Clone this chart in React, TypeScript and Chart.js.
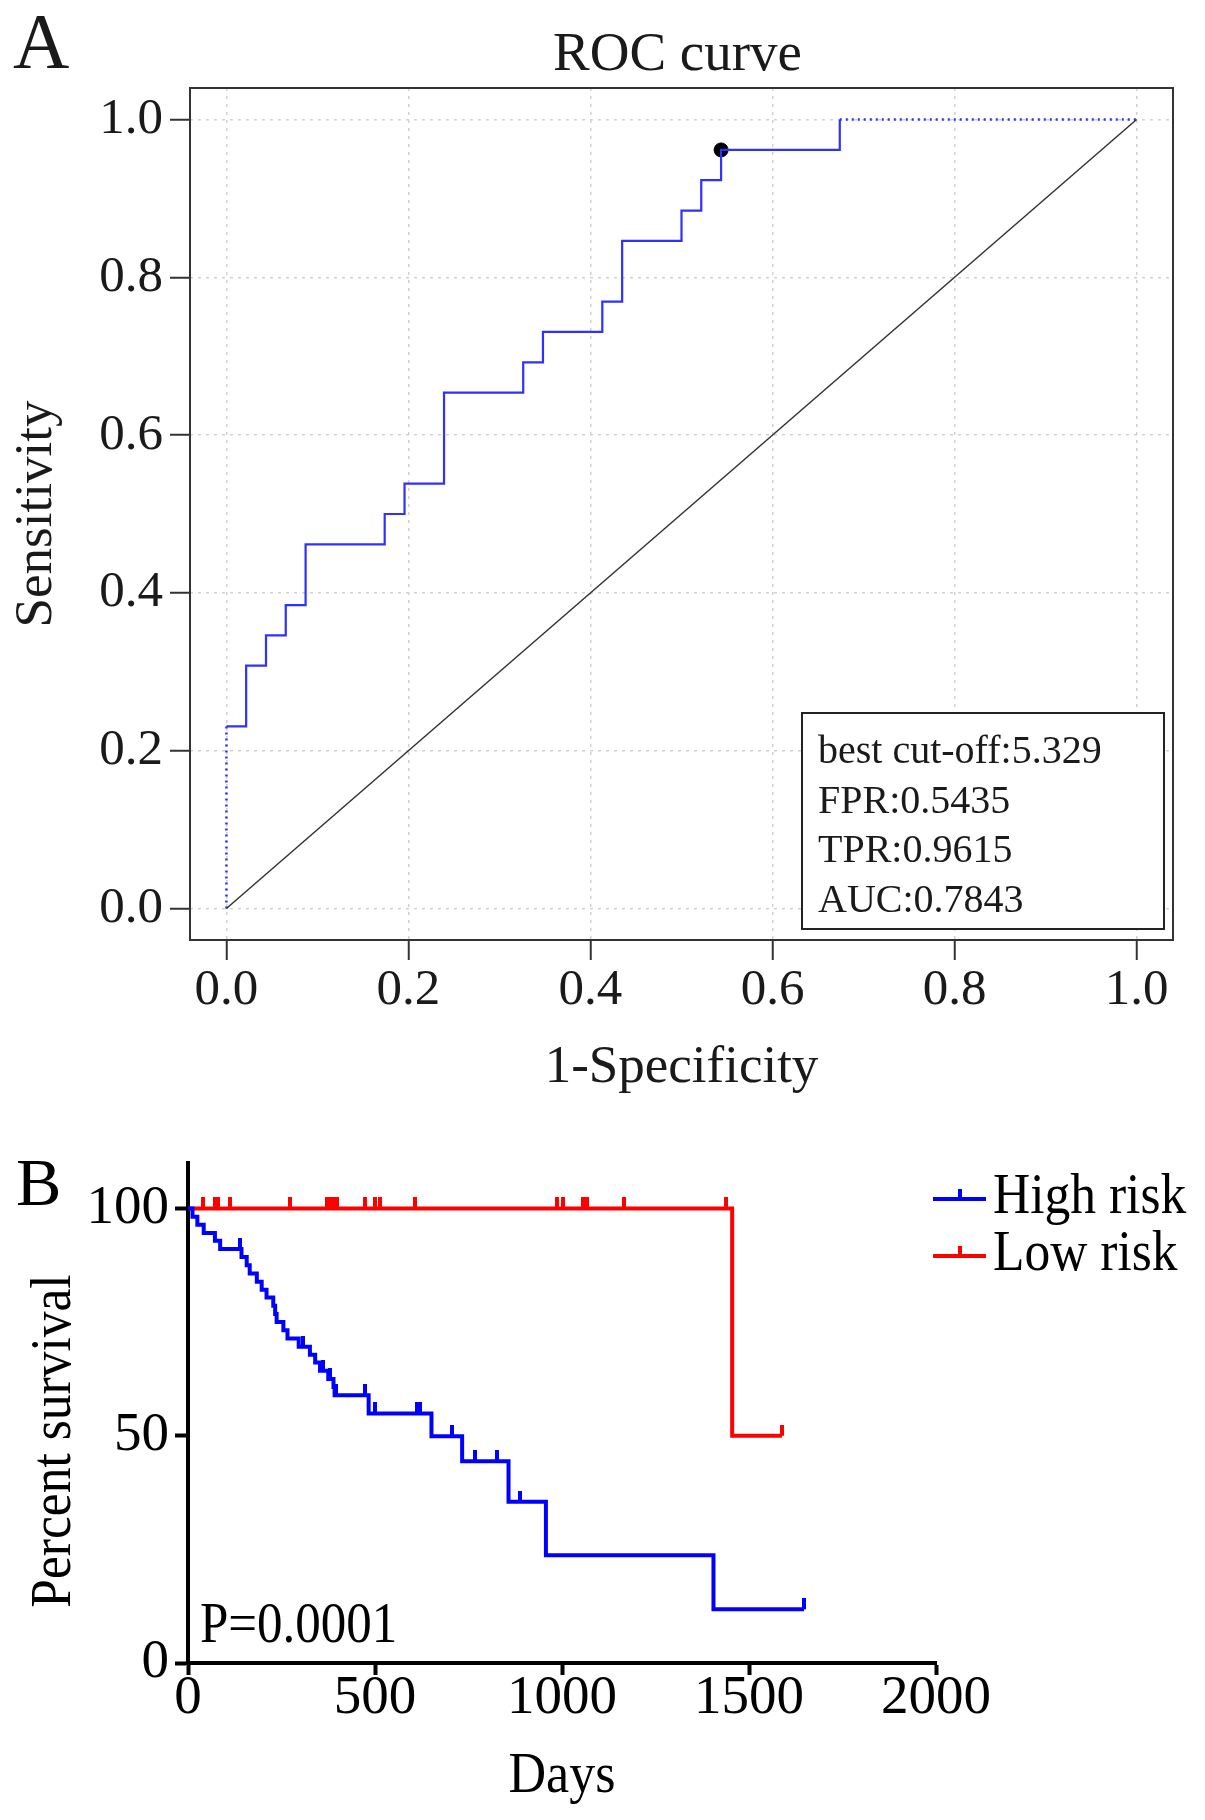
import { useEffect, useRef } from 'react';
import { Chart, registerables } from 'chart.js';

Chart.register(...registerables);

const SERIF = '"Liberation Serif", "Times New Roman", serif';

// ---- Panel A: ROC curve ----
const rocFpr = [0, 0.0217, 0.0435, 0.0652, 0.087, 0.1739, 0.1957, 0.2391, 0.3261, 0.3478, 0.413, 0.4348, 0.5, 0.5217, 0.5435, 0.6739];
const rocTpr = [0.2308, 0.3077, 0.3462, 0.3846, 0.4615, 0.5, 0.5385, 0.6538, 0.6923, 0.7308, 0.7692, 0.8462, 0.8846, 0.9231, 0.9615, 1.0];
const rocTicks = [0, 0.2, 0.4, 0.6, 0.8, 1.0];
const bestCutoff = '5.329';
const bestFpr = 0.5435;
const bestTpr = 0.9615;
const auc = '0.7843';

// ---- Panel B: Kaplan-Meier ----
const highDays = [0, 12, 25, 42, 72, 86, 143, 157, 165, 184, 197, 210, 228, 233, 237, 255, 266, 296, 326, 340, 353, 375, 389, 392, 483, 651, 733, 857, 957, 1405, 1647];
const highPct = [100, 98.2, 96.4, 94.6, 92.9, 91.1, 89.3, 87.5, 85.7, 83.9, 82.1, 80.4, 78.6, 76.8, 75.0, 73.2, 71.4, 69.6, 67.8, 66.1, 64.3, 62.5, 60.7, 58.9, 54.9, 49.9, 44.4, 35.5, 23.7, 11.8, 11.8];
const highCensored = [138, 308, 362, 380, 397, 473, 500, 611, 620, 705, 767, 825, 888, 1647];
const lowDays = [0, 1455, 1588];
const lowPct = [100, 50, 50];
const lowCensored = [40, 72, 80, 112, 273, 372, 380, 388, 398, 473, 500, 513, 607, 987, 1003, 1056, 1067, 1166, 1439, 1588];
const kmXTicks = [0, 500, 1000, 1500, 2000];
const kmYTicks = [0, 50, 100];
const groups = ['High risk', 'Low risk'];
const pValue = 'P=0.0001';

const BLUE = '#0000ff';
const RED = '#ff0000';

function levelAt(days: number[], pct: number[], d: number) {
  let v = pct[0];
  for (let i = 0; i < days.length; i++) if (days[i] <= d) v = pct[i];
  return v;
}

// small upward tick used for censored observations
function censorMark(color: string) {
  const c = document.createElement('canvas');
  c.width = 4;
  c.height = 22;
  const g = c.getContext('2d')!;
  g.fillStyle = color;
  g.fillRect(0, 0, 4, 11);
  return c;
}

function squeezeText(ctx: CanvasRenderingContext2D, text: string, x: number, y: number, squeeze: number) {
  const w = ctx.measureText(text).width;
  ctx.fillText(text, x, y, w * squeeze);
}

function RocChart() {
  const ref = useRef<HTMLCanvasElement>(null);

  useEffect(() => {
    if (!ref.current) return;

    const steps = rocFpr.map((x, i) => ({ x, y: rocTpr[i] }));
    const head = [{ x: rocFpr[0], y: 0 }, { x: rocFpr[0], y: rocTpr[0] }];
    const tail = [{ x: rocFpr[rocFpr.length - 1], y: 1 }, { x: 1, y: 1 }];

    const decor = {
      id: 'rocDecor',
      afterDraw(chart: any) {
        const { ctx, chartArea: a } = chart;
        ctx.save();
        ctx.strokeStyle = '#333';
        ctx.lineWidth = 2;
        ctx.strokeRect(a.left, a.top, a.right - a.left, a.bottom - a.top);

        // info box
        const bw = 362;
        const bh = 216;
        const bx = a.right - 9 - bw;
        const by = a.bottom - 11 - bh;
        ctx.fillStyle = '#fff';
        ctx.fillRect(bx, by, bw, bh);
        ctx.strokeStyle = '#222';
        ctx.strokeRect(bx, by, bw, bh);
        ctx.fillStyle = '#1a1a1a';
        ctx.font = `40px ${SERIF}`;
        ctx.textAlign = 'left';
        ctx.textBaseline = 'alphabetic';
        const lines = [`best cut-off:${bestCutoff}`, `FPR:${bestFpr}`, `TPR:${bestTpr}`, `AUC:${auc}`];
        lines.forEach((t, i) => ctx.fillText(t, bx + 16, by + 50 + i * 49.7));

        ctx.font = `55px ${SERIF}`;
        ctx.textAlign = 'center';
        ctx.fillText('ROC curve', (a.left + a.right) / 2 - 4, 70);
        ctx.font = `78px ${SERIF}`;
        ctx.textAlign = 'left';
        ctx.fillText('A', 13, 67);
        ctx.restore();
      },
    };

    const gridOpts = {
      color: '#d2d2d2',
      lineWidth: 1.5,
      tickLength: 20,
      tickColor: '#333',
      tickWidth: 2,
      tickBorderDash: [],
    };

    const chart = new Chart(ref.current, {
      type: 'scatter',
      data: {
        datasets: [
          {
            data: [{ x: 0, y: 0 }, { x: 1, y: 1 }],
            showLine: true,
            borderColor: '#333',
            borderWidth: 1.5,
            pointRadius: 0,
          },
          {
            data: head,
            showLine: true,
            borderColor: '#3030ff',
            borderWidth: 2.5,
            borderDash: [2, 4],
            pointRadius: 0,
          },
          {
            data: tail,
            showLine: true,
            borderColor: '#3030ff',
            borderWidth: 2.5,
            borderDash: [2, 4],
            pointRadius: 0,
          },
          {
            data: steps,
            showLine: true,
            stepped: 'before',
            borderColor: '#3030ff',
            borderWidth: 2.2,
            pointRadius: 0,
          },
          {
            data: [{ x: bestFpr, y: bestTpr }],
            pointRadius: 7,
            backgroundColor: '#000',
            borderColor: '#000',
          },
        ],
      },
      options: {
        animation: false,
        responsive: true,
        maintainAspectRatio: false,
        layout: { padding: { top: 88, right: 32, left: 0, bottom: 0 } },
        plugins: { legend: { display: false }, tooltip: { enabled: false } },
        scales: {
          x: {
            type: 'linear',
            min: -0.04,
            max: 1.04,
            afterBuildTicks: (s: any) => {
              s.ticks = rocTicks.map((v) => ({ value: v }));
            },
            afterFit: (s: any) => {
              s.height = 180;
            },
            grid: gridOpts,
            border: { display: false, dash: [3, 5] },
            ticks: {
              font: { family: SERIF, size: 51 },
              color: '#1a1a1a',
              padding: 0,
              maxRotation: 0,
              callback: (v: any) => Number(v).toFixed(1),
            },
            title: {
              display: true,
              text: '1-Specificity',
              font: { family: SERIF, size: 53 },
              color: '#1a1a1a',
              padding: { top: 0, bottom: 20 },
            },
          },
          y: {
            type: 'linear',
            min: -0.04,
            max: 1.04,
            afterBuildTicks: (s: any) => {
              s.ticks = rocTicks.map((v) => ({ value: v }));
            },
            afterFit: (s: any) => {
              s.width = 190;
            },
            grid: gridOpts,
            border: { display: false, dash: [3, 5] },
            ticks: {
              font: { family: SERIF, size: 51 },
              color: '#1a1a1a',
              padding: 7,
              callback: (v: any) => Number(v).toFixed(1),
            },
            title: {
              display: true,
              text: 'Sensitivity',
              font: { family: SERIF, size: 53 },
              color: '#1a1a1a',
              padding: { top: 5, bottom: 0 },
            },
          },
        },
      } as any,
      plugins: [decor],
    });

    return () => chart.destroy();
  }, []);

  return <canvas ref={ref} />;
}

function SurvivalChart() {
  const ref = useRef<HTMLCanvasElement>(null);

  useEffect(() => {
    if (!ref.current) return;

    const highLine = highDays.map((x, i) => ({ x, y: highPct[i] }));
    const lowLine = lowDays.map((x, i) => ({ x, y: lowPct[i] }));
    const highMarks = highCensored.map((d) => ({ x: d, y: levelAt(highDays, highPct, d) }));
    const lowMarks = lowCensored.map((d) => ({ x: d, y: levelAt(lowDays, lowPct, d) }));

    const decor = {
      id: 'kmDecor',
      afterDraw(chart: any) {
        const { ctx, chartArea: a } = chart;
        ctx.save();
        ctx.fillStyle = '#000';
        ctx.textBaseline = 'alphabetic';

        ctx.font = `68px ${SERIF}`;
        ctx.textAlign = 'left';
        ctx.fillText('B', 16, 85);

        ctx.font = `56px ${SERIF}`;
        squeezeText(ctx, pValue, a.left + 12, a.bottom - 21, 0.91);

        ctx.textAlign = 'center';
        squeezeText(ctx, 'Days', (a.left + a.right) / 2, 672, 0.93);

        ctx.save();
        ctx.translate(70, (a.top + a.bottom) / 2 + 28);
        ctx.rotate(-Math.PI / 2);
        squeezeText(ctx, 'Percent survival', 0, 0, 0.92);
        ctx.restore();

        // legend
        const colors = [BLUE, RED];
        const rows = [79, 136];
        groups.forEach((g, i) => {
          const y = rows[i];
          ctx.strokeStyle = colors[i];
          ctx.lineWidth = 4;
          ctx.beginPath();
          ctx.moveTo(a.right - 3, y);
          ctx.lineTo(a.right + 50, y);
          ctx.moveTo(a.right + 24, y);
          ctx.lineTo(a.right + 24, y - 10);
          ctx.stroke();
          ctx.fillStyle = '#000';
          ctx.textAlign = 'left';
          squeezeText(ctx, g, a.right + 57, y + 14, 0.92);
        });
        ctx.restore();
      },
    };

    const chart = new Chart(ref.current, {
      type: 'scatter',
      data: {
        datasets: [
          {
            data: highLine,
            showLine: true,
            stepped: 'before',
            borderColor: BLUE,
            borderWidth: 4,
            pointRadius: 0,
          },
          {
            data: lowLine,
            showLine: true,
            stepped: 'before',
            borderColor: RED,
            borderWidth: 4,
            pointRadius: 0,
          },
          {
            data: highMarks,
            pointStyle: censorMark(BLUE),
            pointRadius: 6,
          },
          {
            data: lowMarks,
            pointStyle: censorMark(RED),
            pointRadius: 6,
          },
        ],
      },
      options: {
        animation: false,
        responsive: true,
        maintainAspectRatio: false,
        layout: { padding: { top: 43, right: 269, left: 0, bottom: 0 } },
        plugins: { legend: { display: false }, tooltip: { enabled: false } },
        scales: {
          x: {
            type: 'linear',
            min: 0,
            max: 2000,
            afterBuildTicks: (s: any) => {
              s.ticks = kmXTicks.map((v) => ({ value: v }));
            },
            afterFit: (s: any) => {
              s.height = 157;
            },
            grid: {
              drawOnChartArea: false,
              tickLength: 12,
              tickWidth: 4,
              tickColor: '#000',
            },
            border: { display: true, color: '#000', width: 4 },
            ticks: {
              font: { family: SERIF, size: 55 },
              color: '#000',
              padding: -9,
              maxRotation: 0,
              callback: (v: any) => String(v),
            },
          },
          y: {
            type: 'linear',
            min: 0,
            max: 110,
            afterBuildTicks: (s: any) => {
              s.ticks = kmYTicks.map((v) => ({ value: v }));
            },
            afterFit: (s: any) => {
              s.width = 188;
            },
            grid: {
              drawOnChartArea: false,
              tickLength: 13,
              tickWidth: 4,
              tickColor: '#000',
            },
            border: { display: true, color: '#000', width: 4 },
            ticks: {
              font: { family: SERIF, size: 55 },
              color: '#000',
              padding: 6,
              callback: (v: any) => String(v),
            },
          },
        },
      } as any,
      plugins: [decor],
    });

    return () => chart.destroy();
  }, []);

  return <canvas ref={ref} />;
}

export default function App() {
  return (
    <div style={{ position: 'absolute', left: 0, top: 0, width: 1205, height: 1820, background: '#fff' }}>
      <div style={{ position: 'absolute', left: 0, top: 0, width: 1205, height: 1120 }}>
        <RocChart />
      </div>
      <div style={{ position: 'absolute', left: 0, top: 1120, width: 1205, height: 700 }}>
        <SurvivalChart />
      </div>
    </div>
  );
}
